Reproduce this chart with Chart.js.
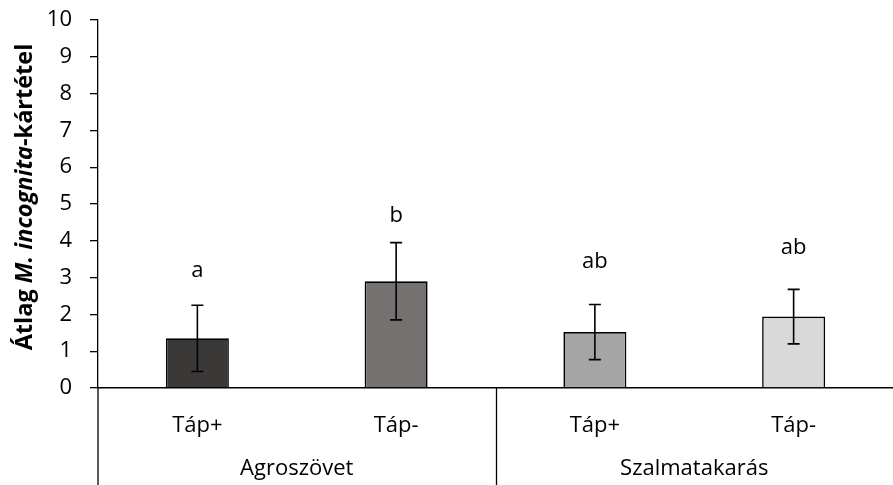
<!DOCTYPE html>
<html>
<head>
<meta charset="utf-8">
<script src="https://cdn.jsdelivr.net/npm/chart.js@4.4.1/dist/chart.umd.min.js"></script>
<style>
  html, body { margin: 0; padding: 0; background: #ffffff; }
  #wrap { width: 893px; height: 485px; position: relative; }
</style>
</head>
<body>
<div id="wrap"><canvas id="c"></canvas></div>
<script>
// ---- data ----
const categories = ["Táp+", "Táp-", "Táp+", "Táp-"];
const groups = ["Agroszövet", "Szalmatakarás"];
const groupSizes = [2, 2];
const means = [1.35, 2.9, 1.52, 1.94];
const errors = [0.9, 1.05, 0.75, 0.74];
const letters = ["a", "b", "ab", "ab"];
const letterLevels = [3.2, 4.67, 3.42, 3.8];
const yTickValues = [0, 1, 2, 3, 4, 5, 6, 7, 8, 9, 10];
const barColors = ["#3B3838", "#767171", "#A5A5A5", "#D9D9D9"];

const FONT = "'Open Sans', sans-serif";
const FS = 22;
const TFS = 23.5;

const extras = {
  id: 'extras',
  afterDatasetsDraw(chart) {
    const ctx = chart.ctx;
    const x = chart.scales.x, y = chart.scales.y;
    const area = chart.chartArea;
    ctx.save();
    // error bars
    ctx.strokeStyle = '#000';
    ctx.lineWidth = 1.6;
    means.forEach((m, i) => {
      const px = x.getPixelForValue(i);
      const top = y.getPixelForValue(m + errors[i]);
      const bot = y.getPixelForValue(m - errors[i]);
      ctx.beginPath();
      ctx.moveTo(px, top); ctx.lineTo(px, bot);
      ctx.moveTo(px - 6, top); ctx.lineTo(px + 6, top);
      ctx.moveTo(px - 6, bot); ctx.lineTo(px + 6, bot);
      ctx.stroke();
    });
    // significance letters
    ctx.fillStyle = '#000';
    ctx.font = FS + 'px ' + FONT;
    ctx.textAlign = 'center';
    ctx.textBaseline = 'middle';
    letters.forEach((t, i) => {
      ctx.fillText(t, x.getPixelForValue(i), y.getPixelForValue(letterLevels[i]));
    });
    // multi-level axis: y axis line extension, separators, group labels
    const H = chart.height;
    ctx.lineWidth = 1.3;
    ctx.beginPath();
    ctx.moveTo(area.left, area.bottom); ctx.lineTo(area.left, H);
    let idx = 0;
    const groupCenters = [];
    groupSizes.forEach((n, g) => {
      const first = idx, last = idx + n - 1;
      groupCenters.push((x.getPixelForValue(first) + x.getPixelForValue(last)) / 2);
      if (g < groupSizes.length - 1) {
        const sx = Math.round((x.getPixelForValue(last) + x.getPixelForValue(last + 1)) / 2) + 0.5;
        ctx.moveTo(sx, area.bottom); ctx.lineTo(sx, H);
      }
      idx += n;
    });
    ctx.stroke();
    groups.forEach((gname, g) => {
      ctx.fillText(gname, groupCenters[g], 469);
    });
    // y axis title with mixed styles
    ctx.translate(25, 197);
    ctx.rotate(-Math.PI / 2);
    const parts = [
      { t: 'Átlag ', f: 'bold ' + TFS + 'px ' + FONT },
      { t: 'M. incognita', f: 'italic bold ' + TFS + 'px ' + FONT },
      { t: '-kártétel', f: 'bold ' + TFS + 'px ' + FONT }
    ];
    let total = 0;
    parts.forEach(p => { ctx.font = p.f; p.w = ctx.measureText(p.t).width; total += p.w; });
    let cx = -total / 2;
    ctx.textAlign = 'left';
    parts.forEach(p => { ctx.font = p.f; ctx.fillText(p.t, cx, 0); cx += p.w; });
    ctx.restore();
  }
};

new Chart(document.getElementById('c'), {
  type: 'bar',
  data: {
    labels: categories,
    datasets: [{
      data: means,
      backgroundColor: barColors,
      borderColor: '#000',
      borderWidth: 1.6,
      barPercentage: 0.317,
      categoryPercentage: 1.0
    }]
  },
  options: {
    responsive: true,
    maintainAspectRatio: false,
    animation: false,
    devicePixelRatio: 1,
    layout: { padding: { top: 20, right: 0, left: 0, bottom: 0 } },
    plugins: { legend: { display: false }, tooltip: { enabled: false } },
    scales: {
      x: {
        grid: { display: false },
        border: { display: true, color: '#000', width: 1.5 },
        ticks: { color: '#000', font: { family: FONT, size: FS }, padding: 17, maxRotation: 0 },
        afterFit(s) { s.height = 97; s.paddingLeft = 0; s.paddingRight = 0; }
      },
      y: {
        min: 0, max: 10,
        afterBuildTicks(s) { s.ticks = yTickValues.map(v => ({ value: v })); },
        grid: { display: true, drawOnChartArea: false, drawTicks: true, tickLength: 8, color: '#000', lineWidth: 1.3 },
        border: { display: true, color: '#000', width: 1.3 },
        ticks: { color: '#000', font: { family: FONT, size: FS }, padding: 18 },
        afterFit(s) { s.width = 98; s.paddingTop = 0; s.paddingBottom = 0; }
      }
    }
  },
  plugins: [extras]
});
</script>
</body>
</html>
